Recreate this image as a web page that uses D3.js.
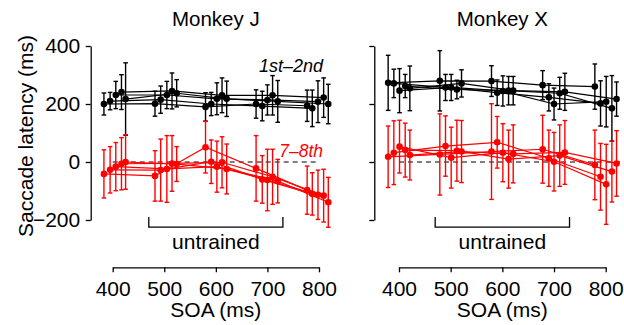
<!DOCTYPE html>
<html>
<head>
<meta charset="utf-8">
<script src="https://cdn.jsdelivr.net/npm/d3@7"></script>
<style>
  body { margin: 0; background: #fff; }
  svg text { font-family: "Liberation Sans", Arial, sans-serif; }
</style>
</head>
<body>
<div id="chart"></div>
<script>
// x tick labels and y tick labels
const soaTicks = [400, 500, 600, 700, 800];
const latTicks = [-200, 0, 200, 400];

// SOA for each session line (5 lines x 5 SOA groups)
const soaJ = [
  [383, 482, 580, 678, 777],
  [395, 493, 591, 690, 787],
  [406, 505, 602, 700, 798],
  [417, 515, 612, 710, 809],
  [425, 524, 621, 720, 818]
];
const soaX = [
  [379, 479, 579, 678, 779],
  [390, 490, 590, 690, 790],
  [401, 501, 601, 700, 801],
  [412, 512, 612, 711, 812],
  [421, 521, 621, 721, 821]
];

// Monkey J, 1st-2nd saccade latency (ms) and error
const latJ12 = [
  [200, 201, 190, 200, 194],
  [210, 215, 200, 193, 185],
  [231, 231, 218, 214, 208],
  [241, 245, 230, 230, 222],
  [217, 237, 218, 209, 200]
];
const errJ12 = [
  [38, 43, 49, 49, 54],
  [30, 47, 40, 51, 63],
  [47, 47, 55, 52, 72],
  [60, 62, 60, 68, 68],
  [125, 47, 61, 72, 68]
];
// Monkey J, 7-8th
const latJ78 = [
  [-41, -48, 51, -22, -97],
  [-27, -28, 1, -60, -110],
  [-16, -24, -16, -62, -113],
  [-6, -5, -1, -51, -116],
  [0, -7, -24, -66, -139]
];
const errJ78 = [
  [83, 87, 89, 113, 83],
  [80, 107, 75, 82, 73],
  [83, 115, 88, 106, 85],
  [90, 96, 88, 95, 91],
  [94, 60, 86, 75, 86]
];

// Monkey X, 1st-2nd
const latX12 = [
  [273, 280, 279, 265, 260],
  [271, 257, 239, 223, 202],
  [246, 257, 245, 200, 208],
  [262, 250, 246, 237, 185],
  [254, 271, 246, 242, 217]
];
const errX12 = [
  [95, 104, 53, 50, 78],
  [49, 45, 44, 47, 78],
  [76, 45, 52, 55, 87],
  [40, 32, 49, 55, 113],
  [77, 47, 49, 64, 59]
];
// Monkey X, 7-8th
const latX78 = [
  [18, 26, 36, 44, -10],
  [32, 55, 68, 13, -51],
  [53, 15, 32, 1, -77],
  [41, 39, 10, 22, -33],
  [24, 36, 28, 33, -5]
];
const errX78 = [
  [106, 140, 165, 117, 120],
  [110, 104, 89, 97, 115],
  [91, 105, 100, 101, 138],
  [93, 105, 100, 106, 105],
  [86, 107, 100, 110, 113]
];

const untrained = [470, 730];

const width = 624, height = 325;
const fontSize = 21;

const svg = d3.select('#chart').append('svg')
  .attr('width', width)
  .attr('height', height);

const y = d3.scaleLinear().domain([-200, 400]).range([220, 46]);

const panels = [
  { title: 'Monkey J', axisX: 90.7, range: [112.7, 319], soa: soaJ,
    early: latJ12, earlyErr: errJ12, late: latJ78, lateErr: errJ78,
    zeroLine: [400, 800], labels: true },
  { title: 'Monkey X', axisX: 374.3, range: [399, 605.7], soa: soaX,
    early: latX12, earlyErr: errX12, late: latX78, lateErr: errX78,
    zeroLine: [400, 828], labels: false }
];

// y axis title
svg.append('text')
  .attr('transform', 'translate(33,136) rotate(-90)')
  .attr('text-anchor', 'middle')
  .style('font-size', fontSize + 'px')
  .text('Saccade latency (ms)');

function drawSeries(g, x, soa, lat, err, color) {
  const line = d3.line().x(d => x(d[0])).y(d => y(d[1]));
  lat.forEach((row, i) => {
    const pts = row.map((v, j) => [soa[i][j], v, err[i][j]]);
    g.append('path')
      .datum(pts)
      .attr('d', line)
      .attr('fill', 'none')
      .attr('stroke', color)
      .attr('stroke-width', 1.2);
  });
  lat.forEach((row, i) => {
    const pts = row.map((v, j) => [soa[i][j], v, err[i][j]]);
    const bars = g.append('g');
    pts.forEach(d => {
      const cx = x(d[0]);
      const y0 = y(d[1] - d[2]), y1 = y(d[1] + d[2]);
      bars.append('line').attr('x1', cx).attr('x2', cx).attr('y1', y0).attr('y2', y1);
      bars.append('line').attr('x1', cx - 2.3).attr('x2', cx + 2.3).attr('y1', y0).attr('y2', y0);
      bars.append('line').attr('x1', cx - 2.3).attr('x2', cx + 2.3).attr('y1', y1).attr('y2', y1);
    });
    bars.selectAll('line').attr('stroke', color).attr('stroke-width', 1.4);
    g.append('g').selectAll('circle')
      .data(pts)
      .enter()
      .append('circle')
      .attr('cx', d => x(d[0]))
      .attr('cy', d => y(d[1]))
      .attr('r', 3.3)
      .attr('fill', color);
  });
}

panels.forEach(p => {
  const x = d3.scaleLinear().domain([400, 800]).range(p.range);
  const g = svg.append('g');

  // y axis
  const yAxis = d3.axisLeft(y).tickValues(latTicks).tickSize(5).tickSizeOuter(0).tickPadding(5.5);
  if (!p.labels) yAxis.tickFormat('');
  const ya = g.append('g')
    .attr('transform', `translate(${p.axisX},0)`)
    .call(yAxis);
  ya.selectAll('text').style('font-size', fontSize + 'px').attr('fill', '#000');

  // x axis
  const xa = g.append('g')
    .attr('transform', 'translate(0,267.3)')
    .call(d3.axisBottom(x).tickValues(soaTicks).tickSize(5).tickSizeOuter(0).tickPadding(8.8));
  xa.selectAll('text').style('font-size', fontSize + 'px').attr('fill', '#000');

  [ya, xa].forEach(a => {
    a.select('.domain').attr('stroke', '#000').attr('stroke-width', 1.3);
    a.selectAll('.tick line').attr('stroke', '#000').attr('stroke-width', 1.3);
  });

  g.append('text')
    .attr('x', (p.range[0] + p.range[1]) / 2)
    .attr('y', 317)
    .attr('text-anchor', 'middle')
    .style('font-size', fontSize + 'px')
    .text('SOA (ms)');

  g.append('text')
    .attr('x', (p.range[0] + p.range[1]) / 2)
    .attr('y', 26)
    .attr('text-anchor', 'middle')
    .style('font-size', '20.5px')
    .text(p.title);

  // untrained bracket
  const bx0 = x(untrained[0]), bx1 = x(untrained[1]);
  g.append('path')
    .attr('d', `M${bx0},217V227.2H${bx1}V217`)
    .attr('fill', 'none')
    .attr('stroke', '#000')
    .attr('stroke-width', 1.3);
  g.append('text')
    .attr('x', (bx0 + bx1) / 2)
    .attr('y', 249)
    .attr('text-anchor', 'middle')
    .style('font-size', fontSize + 'px')
    .text('untrained');

  // zero reference line
  g.append('line')
    .attr('x1', x(p.zeroLine[0])).attr('x2', x(p.zeroLine[1]))
    .attr('y1', y(0)).attr('y2', y(0))
    .attr('stroke', '#555')
    .attr('stroke-width', 1.3)
    .attr('stroke-dasharray', '5,4');

  drawSeries(g, x, p.soa, p.early, p.earlyErr, '#000');
  drawSeries(g, x, p.soa, p.late, p.lateErr, '#ff0000');

  if (p.labels) {
    g.append('text')
      .attr('x', 323)
      .attr('y', 71.5)
      .attr('text-anchor', 'end')
      .style('font-size', '18px')
      .style('font-style', 'italic')
      .text('1st\u20132nd');
    g.append('text')
      .attr('x', 323)
      .attr('y', 156.5)
      .attr('text-anchor', 'end')
      .style('font-size', '17.5px')
      .style('font-style', 'italic')
      .attr('fill', '#ff0000')
      .text('7\u20138th');
  }
});
</script>
</body>
</html>
